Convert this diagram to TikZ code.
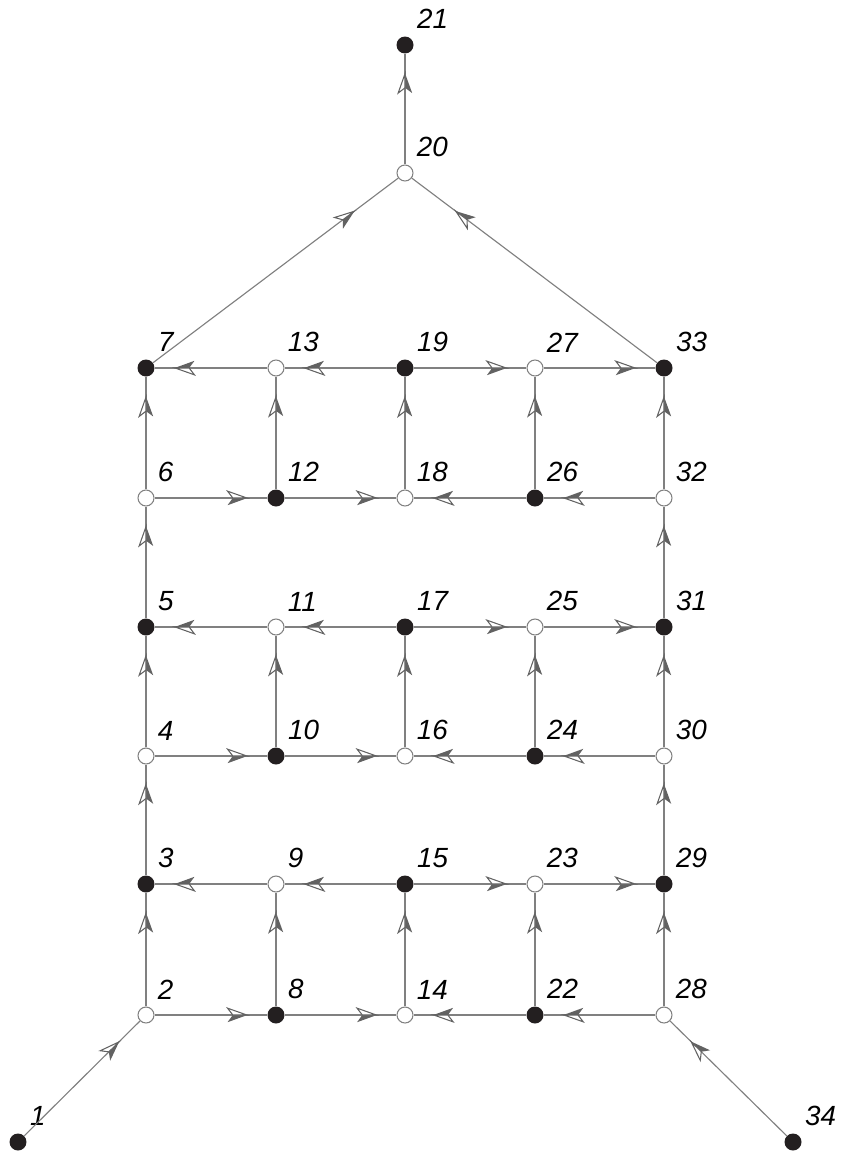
\documentclass[tikz,border=0pt]{standalone}
\usepackage{fontspec}
\setsansfont{Liberation Sans}
\usetikzlibrary{decorations.markings}

\definecolor{edgegray}{HTML}{808080}
\definecolor{tipgray}{HTML}{626262}
\definecolor{dotblack}{HTML}{231F20}

% half filled arrow head, drawn in the path's own frame
\newcommand{\halfarrow}{%
	\fill[tipgray] (0.3pt,0pt) -- (-11pt,-4.1pt) -- (-8pt,0pt) -- cycle;
	\filldraw[draw=tipgray, fill=white, line width=0.6pt] (0pt,0pt) -- (-11pt,3.9pt) -- (-8pt,0pt) -- cycle;}

\begin{document}
\begin{tikzpicture}[x=0.02cm, y=-0.02cm,
	every node/.style={font=\fontsize{15.8}{18}\selectfont\sffamily\itshape},
	fnode/.style={circle, fill=dotblack, minimum size=0.34cm, inner sep=0pt},
	onode/.style={circle, draw=edgegray, fill=white, line width=0.6pt, minimum size=0.32cm, inner sep=0pt},
	num/.style={anchor=south west, inner sep=0pt, xshift=0.11cm, yshift=0.19cm},
	edge/.style={draw=edgegray, line width=0.65pt, postaction=decorate,
		decoration={markings, mark=at position 0.82 with {\halfarrow}}}]
	\useasboundingbox (0,0) rectangle (842,1156);
	% vertices
	\foreach \n/\x/\y/\s in {1/18/1142/fnode, 34/793/1142/fnode, 20/405/173/onode, 21/405/45/fnode,
		2/146/1015/onode, 3/146/884/fnode, 4/146/756/onode, 5/146/627/fnode, 6/146/498/onode, 7/146/368/fnode,
		8/276/1015/fnode, 9/276/884/onode, 10/276/756/fnode, 11/276/627/onode, 12/276/498/fnode, 13/276/368/onode,
		14/405/1015/onode, 15/405/884/fnode, 16/405/756/onode, 17/405/627/fnode, 18/405/498/onode, 19/405/368/fnode,
		22/535/1015/fnode, 23/535/884/onode, 24/535/756/fnode, 25/535/627/onode, 26/535/498/fnode, 27/535/368/onode,
		28/664/1015/onode, 29/664/884/fnode, 30/664/756/onode, 31/664/627/fnode, 32/664/498/onode, 33/664/368/fnode}
		{\node[\s, label={[num]north east:\n}] (n\n) at (\x,\y) {};}
	% arcs
	\foreach \a/\b in {1/2, 34/28, 7/20, 33/20, 20/21,
		2/3, 3/4, 4/5, 5/6, 6/7, 28/29, 29/30, 30/31, 31/32, 32/33,
		8/9, 10/11, 12/13, 14/15, 16/17, 18/19, 22/23, 24/25, 26/27,
		2/8, 8/14, 22/14, 28/22, 9/3, 15/9, 15/23, 23/29,
		4/10, 10/16, 24/16, 30/24, 11/5, 17/11, 17/25, 25/31,
		6/12, 12/18, 26/18, 32/26, 13/7, 19/13, 19/27, 27/33}
		{\draw[edge] (n\a) -- (n\b);}
\end{tikzpicture}
\end{document}
